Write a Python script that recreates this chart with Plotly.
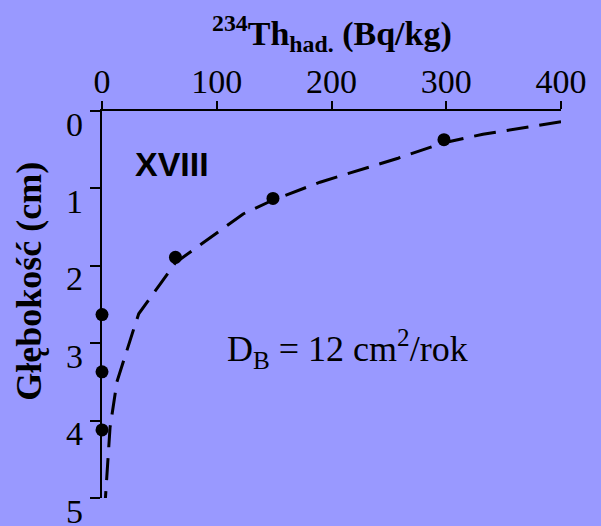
import plotly.graph_objects as go

# Measured data points (Th-234 excess activity vs depth)
activity = [298, 149, 64, 0, 0, 0]
depth = [0.37, 1.13, 1.89, 2.63, 3.37, 4.12]

# Model curve (D_B = 12 cm2/rok)
model_activity = [400, 332, 298, 258, 190, 149, 123, 106, 64, 51, 32, 28, 19, 13, 7, 3]
model_depth = [0.14, 0.30, 0.41, 0.61, 0.92, 1.15, 1.33, 1.51, 1.96, 2.23, 2.62, 2.80, 3.23, 3.50, 4.09, 5.0]

x_ticks = [0, 100, 200, 300, 400]
y_ticks = [0, 1, 2, 3, 4, 5]

BG = "#9999FF"
SERIF = "Liberation Serif, Times New Roman, serif"
SANS = "Liberation Sans, Arial, sans-serif"

fig = go.Figure()
fig.add_trace(go.Scatter(
    x=model_activity, y=model_depth, mode="lines",
    line=dict(color="black", width=3, dash="22px,11px"),
))
fig.add_trace(go.Scatter(
    x=activity, y=depth, mode="markers",
    marker=dict(color="black", size=13),
    cliponaxis=False,
))

# y tick labels sit just below their ticks in the reference
ytick_annotations = [
    dict(text=str(v), xref="paper", yref="y", x=0, y=v, xshift=-17, yshift=-13,
         showarrow=False, xanchor="right", yanchor="middle",
         font=dict(family=SERIF, size=34, color="black"))
    for v in y_ticks
]

fig.update_layout(
    width=601, height=526,
    paper_bgcolor=BG, plot_bgcolor=BG,
    margin=dict(l=102, r=40, t=111, b=28, autoexpand=False),
    showlegend=False,
    xaxis=dict(
        side="top", range=[0, 400], tickvals=x_ticks,
        showline=True, linecolor="black", linewidth=2,
        ticks="outside", ticklen=8, tickwidth=2, tickcolor="black",
        showgrid=False, zeroline=False, ticklabelstandoff=-6,
        tickfont=dict(family=SERIF, size=34, color="black"),
    ),
    yaxis=dict(
        range=[5, 0], tickvals=y_ticks, ticktext=["" for _ in y_ticks],
        showline=True, linecolor="black", linewidth=2,
        ticks="outside", ticklen=10, tickwidth=2, tickcolor="black",
        showgrid=False, zeroline=False,
    ),
    annotations=ytick_annotations + [
        dict(text="<b><sup>234</sup>Th<sub>had.</sub> (Bq/kg)</b>", xref="paper", yref="paper",
             x=0.5, y=1, yshift=78, showarrow=False, xanchor="center", yanchor="middle",
             font=dict(family=SERIF, size=34, color="black")),
        dict(text="<b>Głębokość (cm)</b>", xref="paper", yref="paper",
             x=-0.159, y=0.559, textangle=-90, showarrow=False,
             xanchor="center", yanchor="middle",
             font=dict(family=SERIF, size=36, color="black")),
        dict(text="<b>XVIII</b>", xref="x", yref="y", x=61, y=0.69,
             showarrow=False, xanchor="center", yanchor="middle",
             font=dict(family=SANS, size=34, color="black")),
        dict(text="D<sub>B</sub> = 12 cm<sup>2</sup>/rok", xref="x", yref="y", x=214, y=3.08,
             showarrow=False, xanchor="center", yanchor="middle",
             font=dict(family=SERIF, size=36, color="black")),
    ],
)

fig.write_html(
    "out.html",
    config={"displayModeBar": False},
    post_script="document.body.style.margin='0';",
)
